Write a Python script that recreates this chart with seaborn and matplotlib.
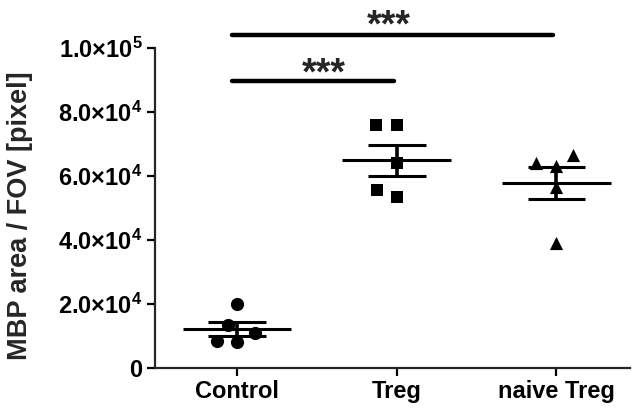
import numpy as np
import pandas as pd
import matplotlib
matplotlib.use("Agg")
import matplotlib.pyplot as plt
import seaborn as sns

# ---- data ----
groups = ["Control", "Treg", "naive Treg"]
control_vals = [20000, 13500, 11000, 8500, 8000]
treg_vals = [76000, 76000, 64000, 55500, 53500]
naive_vals = [66500, 64000, 63000, 56500, 39000]
markers = ["o", "s", "^"]
marker_sizes = [9.5, 9.0, 9.5]
y_ticks = [0, 20000, 40000, 60000, 80000, 100000]
y_tick_labels = ["0", r"$\mathbf{2.0{\times}10^{4}}$", r"$\mathbf{4.0{\times}10^{4}}$",
                 r"$\mathbf{6.0{\times}10^{4}}$", r"$\mathbf{8.0{\times}10^{4}}$",
                 r"$\mathbf{1.0{\times}10^{5}}$"]
sig_pairs = [(0, 1), (0, 2)]
sig_heights = [89700, 104000]
sig_text = ["***", "***"]
sig_text_y = [88500, 103800]
sig_text_x = [0.54, 0.95]

df = pd.DataFrame({
    "group": np.repeat(groups, 5),
    "value": control_vals + treg_vals + naive_vals,
})

sns.set_theme(style="ticks")
plt.rcParams["font.family"] = ["Liberation Sans", "DejaVu Sans"]
plt.rcParams["font.weight"] = "bold"
plt.rcParams["mathtext.fontset"] = "custom"
plt.rcParams["mathtext.rm"] = "Liberation Sans:bold"
plt.rcParams["mathtext.bf"] = "Liberation Sans:bold"

fig = plt.figure(figsize=(6.33, 4.12), dpi=100)
ax = fig.add_axes([0.245, 0.107, 0.75, 0.776])

# swarm layout with a wider spacing (like Prism), then draw smaller markers there
for g, m in zip(groups, markers):
    sub = df[df["group"] == g]
    sns.swarmplot(data=sub, x="group", y="value", order=groups, marker=m,
                  color="black", size=14, linewidth=0, ax=ax, zorder=3)
ax.set_xlim(-0.514, 2.46)
ax.set_ylim(0, 100000)
fig.canvas.draw()
layouts = []
for c in list(ax.collections):
    off = np.asarray(c.get_offsets())
    if len(off):
        layouts.append(off)
    c.remove()
for off, m, ms in zip(layouts, markers, marker_sizes):
    ax.scatter(off[:, 0], off[:, 1], marker=m, s=ms ** 2, color="black",
               linewidths=0, zorder=3)

# mean and SEM
for i, g in enumerate(groups):
    v = df.loc[df["group"] == g, "value"].to_numpy()
    mean = v.mean()
    sem = v.std(ddof=1) / np.sqrt(len(v))
    ax.hlines(mean, i - 0.34, i + 0.34, color="black", lw=2.2, zorder=4)
    ax.hlines([mean - sem, mean + sem], i - 0.18, i + 0.18, color="black", lw=2.2, zorder=4)
    ax.vlines(i, mean - sem, mean + sem, color="black", lw=2.6, zorder=4)

# significance bars
for (a, b), h, t, tx, ty in zip(sig_pairs, sig_heights, sig_text, sig_text_x, sig_text_y):
    ax.plot([a - 0.03, b - 0.02], [h, h], color="black", lw=3.2,
            solid_capstyle="round", clip_on=False)
    ax.text(tx, ty, t, ha="center", va="baseline", fontsize=27,
            fontweight="bold", clip_on=False)

ax.set_xlim(-0.514, 2.46)
ax.set_ylim(0, 100000)
ax.set_yticks(y_ticks)
ax.set_yticklabels(y_tick_labels)
ax.set_xlabel("")
ax.set_ylabel("MBP area / FOV [pixel]", fontsize=19.5, fontweight="bold")
ax.yaxis.set_label_coords(-0.257, 0.475)
sns.despine(ax=ax)
for s in ["left", "bottom"]:
    ax.spines[s].set_linewidth(1.6)
ax.tick_params(axis="both", width=1.6, length=5.5, labelsize=17, colors="black")
ax.tick_params(axis="x", pad=3)
for lab in ax.get_xticklabels() + ax.get_yticklabels():
    lab.set_fontweight("bold")

fig.savefig("out.png", dpi=100)
